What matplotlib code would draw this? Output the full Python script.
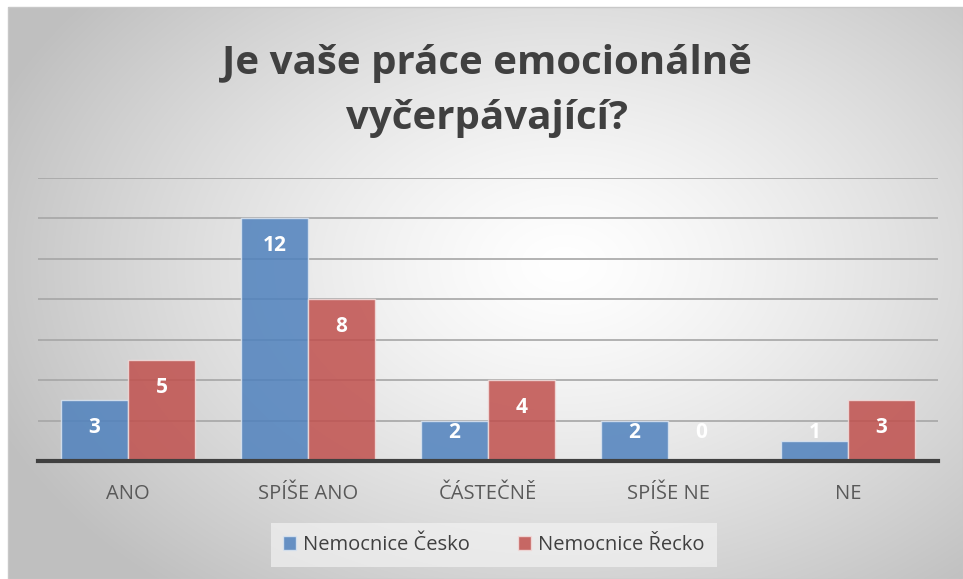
import numpy as np
import matplotlib
matplotlib.use("Agg")
import matplotlib.pyplot as plt
from matplotlib.patches import Rectangle

categories = ["ANO", "SPÍŠE ANO", "ČÁSTEČNĚ", "SPÍŠE NE", "NE"]
cesko = [3, 12, 2, 2, 1]
recko = [5, 8, 4, 0, 3]
series_names = ["Nemocnice Česko", "Nemocnice Řecko"]
title = "Je vaše práce emocionálně\nvyčerpávající?"

W, H = 963, 579
fig = plt.figure(figsize=(W / 100, H / 100), dpi=100)
fig.patch.set_facecolor("white")

# background with radial gradient
bx0, by0 = 8 / W, 0.0
bw, bh = 1 - bx0, 1 - 7 / H
bg = fig.add_axes([bx0, by0, bw, bh], zorder=0)
yy, xx = np.mgrid[0:H, 0:W]
cx, cy = 560, 260
r = np.sqrt(((xx - cx) / 620.0) ** 2 + ((yy - cy) / 430.0) ** 2)
val = 1.0 - 0.25 * np.clip(r, 0, 1) ** 1.3
img = np.dstack([val, val, val])
bg.imshow(img, aspect="auto", extent=[0, 1, 0, 1], origin="upper")
bg.set_xlim(0, 1)
bg.set_ylim(0, 1)
bg.axis("off")
bg.add_patch(Rectangle((0, 0), 1, 1, fill=False, edgecolor="#c8c8c8", lw=1.0,
                       transform=bg.transAxes, clip_on=False))

# main axes: x 38..938, y 178..461 (14 -> 0)
left, right = 38, 938
top, bottom = 178, 461
ax = fig.add_axes([left / W, 1 - bottom / H, (right - left) / W, (bottom - top) / H], zorder=1)
ax.patch.set_alpha(0)

x = np.arange(len(categories))
bwid = 0.372
blue = "#4F81BD"
red = "#C0504D"
b1 = ax.bar(x - bwid / 2, cesko, width=bwid, color=blue, alpha=0.85, edgecolor="#dbe5f1",
            linewidth=1.0, zorder=3)
b2 = ax.bar(x + bwid / 2, recko, width=bwid, color=red, alpha=0.85, edgecolor="#f2dcdb",
            linewidth=1.0, zorder=3)

for xs, vals in ((x - bwid / 2, cesko), (x + bwid / 2, recko)):
    for xi, v in zip(xs, vals):
        ax.text(xi, max(v - 1.35, 1.4), str(v), ha="center", va="center", color="white",
                fontsize=15, fontweight="bold", family=["Open Sans", "DejaVu Sans"], zorder=5)

ax.set_xlim(-0.5, len(categories) - 0.5)
ax.set_ylim(0, 14)
ax.set_yticks(np.arange(0, 15, 2))
ax.yaxis.grid(True, color="#a6a6a6", linewidth=1.2, zorder=1)
ax.set_axisbelow(True)
ax.tick_params(axis="y", left=False, labelleft=False)
ax.tick_params(axis="x", bottom=False, labelsize=14.5, labelcolor="#595959", pad=13)
ax.set_xticks(x)
ax.set_xticklabels(categories, family=["Open Sans", "DejaVu Sans"])
for s in ("top", "right", "left"):
    ax.spines[s].set_visible(False)
ax.spines["bottom"].set_color("#404040")
ax.spines["bottom"].set_linewidth(3)
ax.spines["bottom"].set_zorder(4)

fig.text(487 / W, 1 - 91 / H, title, ha="center", va="center", fontsize=29,
         fontweight="bold", color="#404040", linespacing=1.55,
         family=["Open Sans", "DejaVu Sans"])

leg = fig.legend([b1, b2], series_names, loc="center", bbox_to_anchor=(494 / W, 1 - 545 / H),
                 ncol=2, frameon=True, handlelength=0.65, handleheight=0.65,
                 columnspacing=2.4, handletextpad=0.35, borderpad=0.6, borderaxespad=0,
                 prop={"family": ["Open Sans", "DejaVu Sans"], "size": 14.5})
leg.get_frame().set_facecolor("#f2f2f2")
leg.get_frame().set_alpha(0.7)
leg.get_frame().set_edgecolor("none")
leg.get_frame().set_boxstyle("square", pad=0)
for t in leg.get_texts():
    t.set_color("#404040")

fig.savefig("out.png", dpi=100)
